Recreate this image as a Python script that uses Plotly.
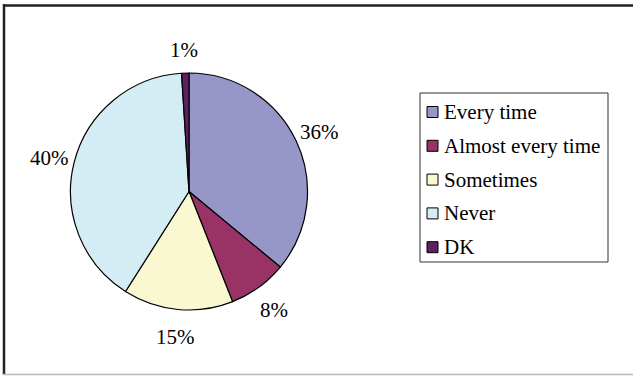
import math
import plotly.graph_objects as go

labels = ["Every time", "Almost every time", "Sometimes", "Never", "DK"]
values = [36, 8, 15, 40, 1]
colors = ["#9696C8", "#993366", "#FAF8D0", "#D4EDF4", "#5E1F60"]

W, H = 633, 376


def px(x):
    return x / W


def py(y):
    return 1 - y / H


FONT = "Liberation Serif"
FS = 21

# pie geometry (pixels)
CX, CY, R = 189.0, 191.5, 118.5
LABEL_DIST = 144.0

fig = go.Figure()
fig.add_trace(go.Pie(
    labels=labels,
    values=values,
    sort=False,
    direction="clockwise",
    rotation=0,
    marker=dict(colors=colors, line=dict(color="#000000", width=1.2)),
    textinfo="none",
    showlegend=False,
    hoverinfo="label+value",
    domain=dict(x=[px(CX - R), px(CX + R)], y=[py(CY + R), py(CY - R)]),
))

annotations = []
shapes = []

# outside percentage labels, placed from the slice mid-angles
total = float(sum(values))
cum = 0.0
for v in values:
    mid = (cum + v / 2.0) / total * 2 * math.pi
    cum += v
    s, c = math.sin(mid), math.cos(mid)
    annotations.append(dict(xref="paper", yref="paper",
                            x=px(CX + LABEL_DIST * s), y=py(CY - LABEL_DIST * c + 2),
                            xanchor="center", yanchor="middle", text=f"{v}%", showarrow=False,
                            font=dict(family=FONT, size=FS, color="#000000")))

# outer frame
shapes.append(dict(type="line", xref="paper", yref="paper", x0=px(4), x1=px(4), y0=py(4), y1=py(375),
                   line=dict(color="#222222", width=2.5)))
shapes.append(dict(type="line", xref="paper", yref="paper", x0=px(3), x1=px(640), y0=py(5.5), y1=py(5.5),
                   line=dict(color="#222222", width=2.5)))
shapes.append(dict(type="line", xref="paper", yref="paper", x0=px(3), x1=px(640), y0=py(374.5), y1=py(374.5),
                   line=dict(color="#BBBBBB", width=1.5)))
# legend box
shapes.append(dict(type="rect", xref="paper", yref="paper", x0=px(420), x1=px(608), y0=py(93), y1=py(262),
                   line=dict(color="#333333", width=1), fillcolor="rgba(0,0,0,0)"))

y0, step = 112, 33.8
for i, (lab, col) in enumerate(zip(labels, colors)):
    yc = y0 + i * step
    shapes.append(dict(type="rect", xref="paper", yref="paper",
                       x0=px(427), x1=px(438), y0=py(yc - 5.5), y1=py(yc + 5.5),
                       line=dict(color="#000000", width=1), fillcolor=col))
    annotations.append(dict(xref="paper", yref="paper", x=px(442), y=py(yc), xanchor="left", yanchor="middle",
                            text=lab, showarrow=False, font=dict(family=FONT, size=FS, color="#000000")))

fig.update_layout(
    width=W, height=H,
    margin=dict(l=0, r=0, t=0, b=0),
    paper_bgcolor="#FFFFFF",
    plot_bgcolor="#FFFFFF",
    shapes=shapes,
    annotations=annotations,
)

fig.write_html("out.html")
